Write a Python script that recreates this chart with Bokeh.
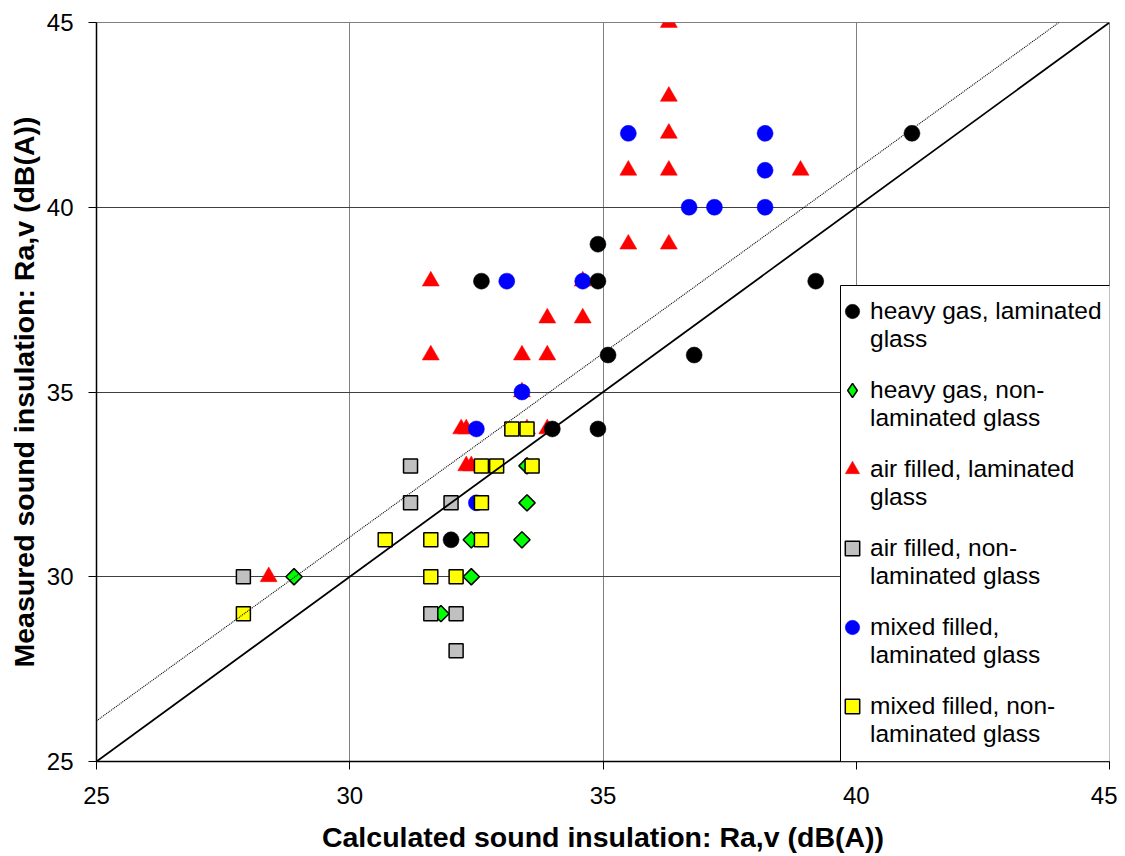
import numpy as np
from bokeh.plotting import figure
from bokeh.models import Range1d, FixedTicker, Legend, LegendItem, BoxAnnotation
from bokeh.embed import file_html
from bokeh.resources import INLINE

# heavy gas, laminated glass
hg_lam_x = [41.1, 34.9, 32.6, 34.9, 39.2, 35.1, 36.8, 34.0, 34.9, 32.0]
hg_lam_y = [42, 39, 38, 38, 38, 36, 36, 34, 34, 31]
# heavy gas, non-laminated glass
hg_non_x = [28.9, 32.4, 32.4, 33.4, 33.5, 33.5, 31.8]
hg_non_y = [30, 30, 31, 31, 32, 33, 29]
# air filled, laminated glass
air_lam_x = [28.4, 36.3, 36.3, 36.3, 35.5, 36.3, 38.9, 35.5, 36.3, 34.6,
             31.6, 33.9, 34.6, 31.6, 33.4, 33.9, 33.4, 32.2, 32.3, 33.5, 33.9,
             32.3, 32.4]
air_lam_y = [30, 45, 43, 42, 41, 41, 41, 39, 39, 38,
             38, 37, 37, 36, 36, 36, 35, 34, 34, 34, 34,
             33, 33]
# air filled, non-laminated glass
air_non_x = [27.9, 31.2, 31.2, 32.0, 31.6, 32.1, 32.1]
air_non_y = [30, 33, 32, 32, 29, 29, 28]
# mixed filled, laminated glass
mix_lam_x = [35.5, 38.2, 38.2, 36.7, 37.2, 38.2, 34.6, 33.1, 33.4, 32.5, 32.5]
mix_lam_y = [42, 42, 41, 40, 40, 40, 38, 38, 35, 34, 32]
# mixed filled, non-laminated glass
mix_non_x = [27.9, 30.7, 31.6, 32.6, 31.6, 32.1, 32.6, 32.6, 32.9, 33.6, 33.2, 33.5]
mix_non_y = [29, 31, 31, 31, 30, 30, 32, 33, 33, 33, 34, 34]

# reference lines
diag_x = [25, 45]
diag_y = [25, 45]
fit_x = [25, 44]
fit_y = [26.1, 45]

ticks = [25, 30, 35, 40, 45]

labels_line1 = ["heavy gas, laminated", "heavy gas, non-", "air filled, laminated",
                "air filled, non-", "mixed filled,", "mixed filled, non-"]
labels_line2 = ["glass", "laminated glass", "glass",
                "laminated glass", "laminated glass", "laminated glass"]

FONT = "Liberation Sans"

p = figure(width=1117, height=856, output_backend="svg", toolbar_location=None,
           x_range=Range1d(25, 45), y_range=Range1d(25, 45),
           min_border_left=96, min_border_right=8, min_border_top=22, min_border_bottom=95)
p.background_fill_color = "white"
p.border_fill_color = "white"
p.outline_line_color = "#808080"
p.outline_line_width = 1

for ax in (p.xaxis[0], p.yaxis[0]):
    ax.ticker = FixedTicker(ticks=ticks)
    ax.minor_tick_line_color = None
    ax.major_tick_out = 8
    ax.major_tick_in = 0
    ax.axis_line_color = "black"
    ax.axis_line_width = 1.5
    ax.major_tick_line_color = "black"
    ax.major_label_text_font = FONT
    ax.major_label_text_font_size = "24px"
    ax.major_label_text_color = "black"
    ax.axis_label_text_font = FONT
    ax.axis_label_text_font_size = "28.5px"
    ax.axis_label_text_font_style = "bold"
    ax.axis_label_text_color = "black"

p.xaxis.axis_label = "Calculated sound insulation: Ra,v (dB(A))"
p.yaxis.axis_label = "Measured sound insulation: Ra,v (dB(A))"
p.xaxis.major_label_standoff = 17
p.yaxis.major_label_standoff = 15
p.xaxis.axis_label_standoff = 14
p.yaxis.axis_label_standoff = 4

p.xgrid.ticker = FixedTicker(ticks=ticks)
p.ygrid.ticker = FixedTicker(ticks=ticks)
p.xgrid.grid_line_color = "#808080"
p.ygrid.grid_line_color = "#404040"
p.xgrid.grid_line_width = 1
p.ygrid.grid_line_width = 1

r_red = p.scatter(air_lam_x, air_lam_y, marker="triangle", size=17,
                  fill_color="#ff0000", line_color="#ff0000", line_width=0.5)
r_blue = p.scatter(mix_lam_x, mix_lam_y, marker="circle", size=16,
                   fill_color="#0000ff", line_color="#0000ff", line_width=0.5)
r_black = p.scatter(hg_lam_x, hg_lam_y, marker="circle", size=16,
                    fill_color="black", line_color="black", line_width=0.5)
# diamond swatch for the legend (drawn small, hidden under the rotated squares)
r_green_key = p.scatter(hg_non_x, hg_non_y, marker="diamond", size=8,
                        fill_color="#00ff00", line_color="black", line_width=1.5)
r_green = p.scatter(hg_non_x, hg_non_y, marker="square", size=11.5, angle=np.pi / 4,
                    fill_color="#00ff00", line_color="black", line_width=1.5)
r_gray = p.scatter(air_non_x, air_non_y, marker="square", size=14,
                   fill_color="#c0c0c0", line_color="black", line_width=1.5)
r_yellow = p.scatter(mix_non_x, mix_non_y, marker="square", size=14,
                     fill_color="#ffff00", line_color="black", line_width=1.5)
r_dummy = p.scatter(x=[], y=[], marker="circle", size=1, fill_alpha=0, line_alpha=0)

p.line(diag_x, diag_y, line_color="black", line_width=1.8)
p.line(fit_x, fit_y, line_color="black", line_width=1.1, line_dash="1 1")

# legend frame
box = BoxAnnotation(left=744, right=1014, bottom=0, top=476,
                    left_units="screen", right_units="screen",
                    bottom_units="screen", top_units="screen",
                    fill_color="white", fill_alpha=1.0,
                    line_color="black", line_width=1, line_alpha=1.0)
p.add_layout(box)

glyph_renderers = [r_black, r_green_key, r_red, r_gray, r_blue, r_yellow]


def style_legend(lg):
    lg.label_text_font = FONT
    lg.label_text_font_size = "24.5px"
    lg.label_text_color = "black"
    lg.border_line_color = None
    lg.background_fill_alpha = 0
    lg.glyph_width = 36
    lg.glyph_height = 36
    lg.label_height = 36
    lg.label_standoff = 0
    lg.spacing = 43
    lg.padding = 0
    lg.margin = 0


legend1 = Legend(items=[LegendItem(label=t, renderers=[r])
                        for t, r in zip(labels_line1, glyph_renderers)],
                 location=(738, 37))
style_legend(legend1)
legend2 = Legend(items=[LegendItem(label=t, renderers=[r_dummy])
                        for t in labels_line2],
                 location=(738, 9))
style_legend(legend2)
p.add_layout(legend1, "center")
p.add_layout(legend2, "center")

open("out.html", "w").write(file_html(p, INLINE))
